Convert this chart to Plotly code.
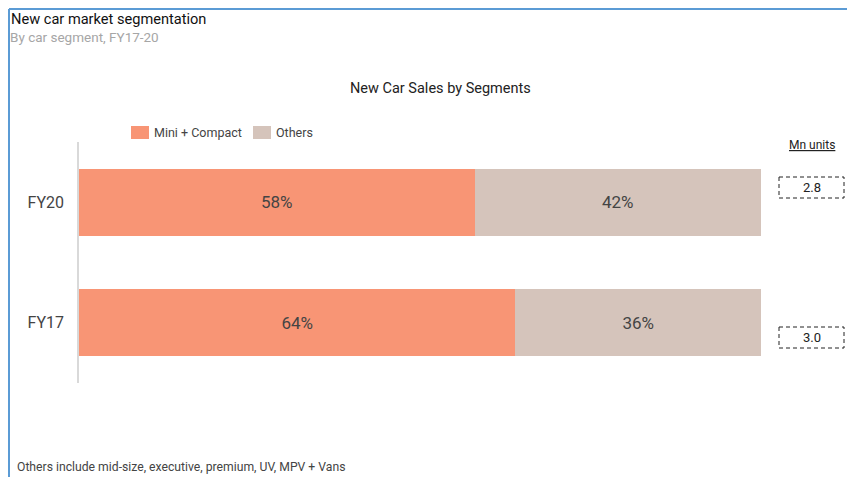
import plotly.graph_objects as go

years = ["FY17", "FY20"]
mini_compact = [64, 58]
others = [36, 42]
mn_units = ["3.0", "2.8"]
series_names = ["Mini + Compact", "Others"]
series_colors = ["#F89575", "#D5C4BB"]

W, H = 847, 477
PL, PR, PT, PB = 79, 761, 142, 383  # plot area in page pixels
L, R, T, B = PL, W - PR, PT, H - PB
pw, ph = PR - PL, PB - PT

def px_x(x):
    return (x - PL) / pw

def px_y(y):
    return (PB - y) / ph

fig = go.Figure()
for name, vals, col in zip(series_names, [mini_compact, others], series_colors):
    fig.add_trace(go.Bar(
        y=years, x=vals, orientation="h", name=name,
        marker=dict(color=col, line=dict(width=0)), width=0.555,
        texttemplate="%{x}%", textposition="inside", insidetextanchor="middle",
        textfont=dict(size=17, color="#444444"), hoverinfo="skip"))

shapes = [
    dict(type="line", xref="paper", yref="paper", x0=px_x(9), x1=px_x(900),
         y0=px_y(9), y1=px_y(9), line=dict(color="#5B9BD5", width=2)),
    dict(type="line", xref="paper", yref="paper", x0=px_x(9), x1=px_x(9),
         y0=px_y(9), y1=px_y(500), line=dict(color="#5B9BD5", width=2)),
]
annotations = [
    dict(text="New car market segmentation", xref="paper", yref="paper",
         x=px_x(9), y=px_y(19), xanchor="left", yanchor="middle", showarrow=False,
         font=dict(family="Roboto", size=14.6, color="#111111")),
    dict(text="By car segment, FY17-20", xref="paper", yref="paper",
         x=px_x(8), y=px_y(37), xanchor="left", yanchor="middle", showarrow=False,
         font=dict(family="Roboto", size=13.5, color="#A6A6A6")),
    dict(text="New Car Sales by Segments", xref="paper", yref="paper",
         x=px_x(440), y=px_y(89), xanchor="center", yanchor="middle", showarrow=False,
         font=dict(family="Roboto", size=14.5, color="#222222")),
    dict(text="<u>Mn units</u>", xref="paper", yref="paper",
         x=px_x(812), y=px_y(145), xanchor="center", yanchor="middle", showarrow=False,
         font=dict(family="Roboto", size=12, color="#222222")),
    dict(text="Others include mid-size, executive, premium, UV, MPV + Vans", xref="paper", yref="paper",
         x=px_x(15), y=px_y(467), xanchor="left", yanchor="middle", showarrow=False,
         font=dict(family="Roboto", size=12.2, color="#444444")),
]

# legend (swatch + label) above the plot
leg_items = [(131, 149, 152), (253, 271, 274)]
for (sx0, sx1, tx), name, col in zip(leg_items, series_names, series_colors):
    shapes.append(dict(type="rect", xref="paper", yref="paper",
                       x0=px_x(sx0), x1=px_x(sx1), y0=px_y(126), y1=px_y(139),
                       fillcolor=col, line=dict(width=0)))
    annotations.append(dict(text=name, xref="paper", yref="paper",
                            x=px_x(tx), y=px_y(132.5), xanchor="left", yanchor="middle",
                            showarrow=False,
                            font=dict(family="Roboto", size=12.5, color="#444444")))

box_y = {"2.8": (177, 198), "3.0": (327, 348)}
for val in mn_units:
    y0, y1 = box_y[val]
    shapes.append(dict(type="rect", xref="paper", yref="paper",
                       x0=px_x(779), x1=px_x(844), y0=px_y(y0), y1=px_y(y1),
                       line=dict(color="#222222", width=1, dash="4px,3px")))
    annotations.append(dict(text=val, xref="paper", yref="paper",
                            x=px_x(811.5), y=px_y((y0 + y1) / 2), xanchor="center",
                            yanchor="middle", showarrow=False,
                            font=dict(family="Roboto", size=13, color="#222222")))

fig.update_layout(
    width=W, height=H, barmode="stack",
    margin=dict(l=L, r=R, t=T, b=B, autoexpand=False),
    paper_bgcolor="white", plot_bgcolor="white",
    font=dict(family="Roboto", color="#444444"),
    showlegend=False,
    xaxis=dict(range=[0, 100], visible=False, fixedrange=True),
    yaxis=dict(type="category", categoryorder="array", categoryarray=years,
               range=[-0.5, 1.5], showgrid=False, zeroline=False,
               showline=True, linecolor="#D9D9D9", linewidth=1.5,
               tickfont=dict(family="Roboto", size=16, color="#444444"), ticks="",
               ticklabelstandoff=10),
    shapes=shapes, annotations=annotations,
    uniformtext=dict(mode="show", minsize=10),
)

fig.write_html("out.html", config={"displayModeBar": False},
               post_script="document.body.style.margin='0';document.body.style.overflow='hidden';")
